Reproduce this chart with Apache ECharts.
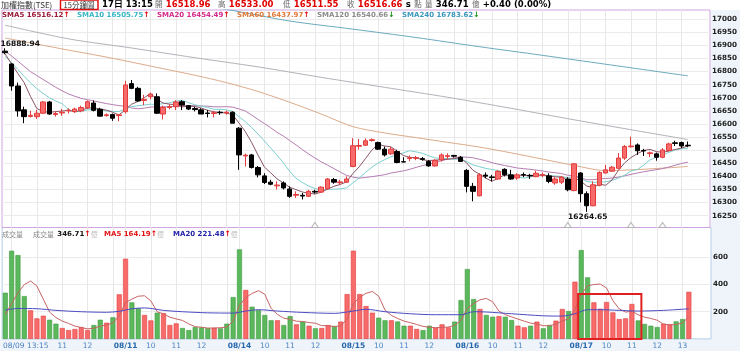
<!DOCTYPE html>
<html><head><meta charset="utf-8">
<script src="https://cdn.jsdelivr.net/npm/echarts@6/dist/echarts.min.js"></script>
<style>html,body{margin:0;padding:0;background:#fff}#c{width:740px;height:351px}</style>
</head><body><div id="c"></div><script>
// ---------- data ----------
const days = ['08/09','08/10','08/11','08/14','08/15','08/16','08/17'];
const slots = ['09:00','09:15','09:30','09:45','10:00','10:15','10:30','10:45','11:00','11:15','11:30','11:45','12:00','12:15','12:30','12:45','13:00','13:15'];
const padCats = ['pad1','pad2','pad3'];
const priceTicks = [16250,16300,16350,16400,16450,16500,16550,16600,16650,16700,16750,16800,16850,16900,16950,17000];
const volTicks = [200,400,600];

const openP = [16878,16829,16745,16654,16629,16628,16641,16684,16636,16642,16650,16647,16650,16662,16680,16656,16632,16636,16632,16647,
16754,16736,16690,16704,16704,16638,16663,16666,16685,16670,16659,16654,16642,16640,16645,16642,16645,16584,16478,16482,
16434,16402,16378,16364,16375,16352,16328,16328,16324,16343,16340,16353,16388,16376,16378,16438,16515,16519,16537,16529,
16504,16486,16495,16456,16468,16469,16468,16457,16440,16463,16476,16480,16473,16423,16362,16326,16405,16398,16390,16427,
16406,16394,16407,16404,16399,16404,16402,16375,16378,16390,16346,16413,16334,16288,16366,16413,16420,16431,16470,16513,
16520,16499,16487,16486,16473,16499,16528,16529,16518.96];
const closeP = [16872,16745,16650,16628,16633,16641,16684,16638,16640,16645,16653,16657,16663,16685,16652,16630,16635,16622,16635,16749,
16736,16688,16694,16714,16641,16663,16666,16684,16672,16657,16655,16638,16640,16643,16643,16645,16603,16482,16481,16434,
16406,16377,16370,16367,16356,16324,16331,16325,16343,16340,16359,16390,16378,16379,16390,16517,16518,16536,16540,16504,
16482,16504,16453,16455,16471,16472,16465,16440,16461,16482,16479,16477,16457,16362,16343,16406,16401,16396,16419,16406,
16390,16406,16405,16402,16412,16407,16381,16390,16397,16349,16448,16334,16288,16368,16415,16425,16435,16470,16514,16516,
16498,16497,16490,16473,16501,16524,16526,16516,16516.66];
const highP = [16888.94,16832,16758,16666,16651,16654,16687,16688,16648,16657,16660,16662,16670,16690,16690,16662,16640,16640,16638,16765,
16768,16742,16711,16720,16717,16670,16676,16691,16691,16672,16666,16660,16654,16650,16651,16651,16648,16588,16487,16486,
16440,16412,16387,16381,16381,16362,16343,16337,16349,16349,16362,16394,16394,16387,16400,16546,16543,16545,16545,16533,
16514,16512,16502,16473,16480,16478,16474,16462,16466,16488,16488,16482,16478,16428,16375,16412,16415,16406,16425,16431,
16425,16412,16415,16410,16422,16415,16412,16397,16402,16397,16450,16416,16343,16381,16419,16444,16440,16489,16520,16552,
16526,16505,16495,16491,16508,16529,16536,16533,16533.00];
const lowP = [16866,16727,16628,16603,16625,16619,16638,16635,16628,16631,16640,16643,16645,16658,16648,16628,16628,16612,16610,16640,
16733,16685,16672,16694,16638,16617,16656,16653,16653,16653,16648,16638,16625,16625,16635,16635,16603,16425,16438,16430,
16396,16371,16366,16350,16350,16318,16318,16312,16321,16334,16337,16349,16372,16368,16375,16435,16502,16516,16533,16501,
16476,16482,16450,16453,16458,16462,16460,16437,16437,16457,16466,16472,16455,16339,16305,16324,16393,16381,16387,16400,
16387,16387,16397,16390,16397,16397,16374,16368,16371,16343,16343,16301,16264.65,16286,16362,16411,16418,16427,16463,16510,
16482,16478,16474,16460,16469,16495,16516,16508,16511.55];

const volume = [340,649,617,315,210,151,171,141,112,80,65,73,87,65,102,141,119,159,328,590,
269,225,176,136,193,190,102,114,80,65,87,85,80,82,78,112,308,659,360,237,
212,176,137,137,102,168,107,127,97,78,80,102,95,127,330,649,330,242,193,156,
137,137,128,97,97,73,65,97,82,107,85,127,286,514,293,220,176,163,168,163,
139,97,85,97,127,78,102,134,220,205,421,654,453,269,222,271,195,146,151,257,
136,110,97,87,112,107,129,146,346.71];
const volSide = ['G','G','G','G','R','R','R','G','G','R','R','R','R','R','G','G','R','G','R','R',
'G','G','R','R','G','R','R','R','G','G','G','G','G','R','G','G','G','G','R','G',
'G','G','G','R','G','G','R','G','R','G','R','R','G','R','R','R','R','R','R','G',
'G','R','G','G','R','R','G','G','R','R','R','G','G','G','G','R','G','G','R','G',
'G','R','R','G','R','G','G','R','R','G','R','G','G','R','R','R','R','R','R','R',
'G','G','G','G','R','R','G','G','R'];

const sma5 = [16867,16830,16793,16758,16705.6,16659.4,16647.2,16644.8,16647.2,16649.6,16652,16646.6,16651.6,16660.6,16662,16657.4,16653,16644.8,16634.8,16654.2,
16675.4,16686,16700.4,16716.2,16694.6,16680,16675.6,16673.6,16665.2,16668.4,16666.8,16661.2,16652.4,16646.6,16643.8,16641.8,16634.8,16603.2,16570.8,16529,
16481.2,16436,16413.6,16390.8,16375.2,16358.8,16349.6,16340.6,16335.8,16332.6,16339.6,16351.4,16362,16369.2,16379.2,16410.8,16436.4,16468,16500.2,16523,
16516,16513.2,16496.6,16479.6,16473,16471,16463.2,16460.6,16461.8,16464,16465.4,16467.8,16471.2,16451.4,16423.6,16409,16393.8,16381.6,16393,16405.6,
16402.4,16403.4,16405.2,16401.8,16403,16406.4,16401.4,16398.4,16397.4,16384.8,16393,16383.6,16363.2,16357.4,16370.6,16366,16386.2,16422.6,16451.8,16472,
16486.6,16499,16503,16494.8,16491.8,16497,16502.8,16508,16516.12];
const sma10 = [16857,16835,16808,16782,16757,16735,16717,16700,16688,16677.6,16655.7,16646.9,16648.2,16653.9,16655.8,16654.7,16649.8,16648.2,16647.7,16658.1,
16666.4,16669.5,16672.6,16675.5,16674.4,16677.7,16680.8,16687,16690.7,16681.5,16673.4,16668.4,16663,16655.9,16656.1,16654.3,16648,16627.8,16608.7,16586.4,
16561.5,16535.4,16508.4,16480.8,16452.1,16420,16392.8,16377.1,16363.3,16353.9,16349.2,16350.5,16351.3,16352.5,16355.9,16375.2,16393.9,16415,16434.7,16451.1,
16463.4,16474.8,16482.3,16489.9,16498,16493.5,16488.2,16478.6,16470.7,16468.5,16468.2,16465.5,16465.9,16456.6,16443.8,16437.2,16430.8,16426.4,16422.2,16414.6,
16405.7,16398.6,16393.4,16397.4,16404.3,16404.4,16402.4,16401.8,16399.6,16393.9,16399.7,16392.5,16380.8,16377.4,16377.7,16379.5,16384.9,16392.9,16404.6,16421.3,
16426.3,16442.6,16462.8,16473.3,16481.9,16491.8,16500.9,16505.5,16505.75];
const sma20 = [16878,16860,16840,16820,16800,16785,16770,16755,16740,16727,16715,16706,16698,16693,16688,16683,16678,16674,16670,16667.9,
16661.1,16658.2,16660.4,16664.7,16665.1,16666.2,16665.3,16667.6,16669.2,16669.8,16669.9,16669,16667.8,16665.7,16665.3,16666,16664.4,16657.4,16649.7,16634,
16617.5,16601.9,16585.7,16568.4,16554.1,16537.2,16520.4,16502.5,16486,16470.2,16455.4,16443,16429.9,16416.7,16404,16397.6,16393.4,16396.1,16399,16402.5,
16406.3,16412.7,16416.8,16421.2,16427,16434.4,16441.1,16446.8,16452.7,16459.8,16465.8,16470.2,16474.1,16473.3,16470.9,16465.4,16459.5,16452.5,16446.5,16441.6,
16437,16432.1,16429.7,16427,16424.1,16420.8,16416.6,16414.1,16410.9,16404.3,16402.7,16395.6,16387.1,16387.4,16391,16392,16393.7,16397.4,16402.1,16407.6,
16413,16417.6,16421.8,16425.4,16429.8,16435.7,16442.9,16449.2,16454.49];
// sparse readings (index -> value) for the slow averages
const sma60Pts = [[0,16928],[5,16905],[10,16882],[15,16860],[20,16836],[25,16811],[30,16786],[35,16758],[40,16724],[45,16683],[50,16638],[55,16590],[60,16566],[65,16548],[70,16530],[75,16512],[80,16490],[85,16466],[90,16442],[95,16422],[100,16426],[105,16433],[108,16437.97]];
const sma120Pts = [[0,16977],[10,16925],[20,16890],[30,16853],[40,16818],[50,16778],[60,16740],[70,16702],[80,16660],[90,16616],[100,16574],[108,16540.66]];
const sma240Pts = [[25,17070],[35,17037],[45,16993],[55,16962],[65,16930],[75,16895],[85,16862],[95,16828],[108,16783.62]];

const volMa5 = [180,260,340,400,426.2,388.4,292.8,197.6,157,131,113.8,94.2,83.4,74,78.4,93.6,102.8,117.2,169.8,267.4,
293,314.2,317.6,279.2,199.8,184,159.4,147,135.8,110.2,89.6,86.2,79.4,79.8,82.4,87.4,132,247.8,303.4,335.2,
355.2,328.8,224.4,179.8,152.8,144,130.2,128.2,120.2,115.4,97.8,96.8,90.4,96.4,146.8,260.6,306.2,335.6,348.8,314,
211.6,173,150.2,131,119.2,106.4,92,85.8,82.8,84.8,87.2,99.6,137.4,223.8,261,288,297.8,273.2,204,178,
161.8,146,130.4,116.2,109,96.8,97.8,107.6,132.2,147.8,216.4,326.8,390.6,400.4,403.8,373.8,282,220.6,197,204,
177,160,150.2,137.4,108.4,102.6,106.4,116.2,164.19];
const volMa20Pts = [[0,212],[2,224],[5,222],[8,210],[12,200],[16,196],[18,203],[20,222],[22,228],[25,210],[28,200],[32,192],[36,190],[38,205],[40,215],[43,205],[47,195],[52,188],[55,205],[57,218],[60,200],[64,185],[68,178],[72,178],[74,200],[76,198],[80,185],[85,170],[88,168],[90,185],[92,215],[94,215],[97,210],[100,205],[104,210],[108,221.48]];

const markerIdx = [49,89,99,104];
const boxRange = [91,100,330];

const headerInfo = {name:'加權指數(TSE)', period:'15分鐘圖', time:'17日 13:15', open:'16518.96', high:'16533.00', low:'16511.55', close:'16516.66', vol:'346.71', chg:'+0.40 (0.00%)'};
const smaNames = ['SMA5','SMA10','SMA20','SMA60','SMA120','SMA240'];
const smaValues = ['16516.12','16505.75','16454.49','16437.97','16540.66','16783.62'];
const smaDirs = ['up','up','up','up','down','down'];
const volLegend = {vol:'346.71', ma5:'164.19', ma20:'221.48'};
const hiLabel = {idx:0, value:16888.94};
const loLabel = {idx:92, value:16264.65};

// ---------- build ----------
const categories = ['08/09 13:15'];
days.slice(1).forEach(d => slots.forEach(s => categories.push(d + ' ' + s)));
const N = categories.length; // 109
const allCats = categories.concat(padCats);
const lastDay = days[days.length-1];

const hourIdx = [];
categories.forEach((c,i) => { if (i > 0 && c.endsWith(':00')) hourIdx.push(i); });

function sparse(pts){ const a = new Array(N).fill(null); pts.forEach(p => a[p[0]] = p[1]); return a; }

const F = 'DejaVu Sans, Verdana, sans-serif';
const CJK = 'Noto Sans CJK TC, DejaVu Sans, sans-serif';

function xLabel(val, idx) {
  if (idx === 0) return '{first|' + val + '}';
  if (!val || val.indexOf(' ') < 0) return '';
  const [d, t] = val.split(' ');
  if (!t.endsWith(':00')) return '';
  if (d === days[1] && (t === '09:00' || t === '10:00')) return '';
  if (t === '09:00') return '{day|' + d + '}';
  if (t === '13:00' && d !== lastDay) return '';
  return '{hr|' + String(parseInt(t, 10)) + '}';
}

const candleData = categories.map((c,i) => [openP[i], closeP[i], lowP[i], highP[i]]);
const RED = '#f76b6b', RED_B = '#e23c3c', GRN = '#5cb85c', GRN_B = '#3f9a3f';
const volData = volume.map((v,i) => ({value: v, itemStyle: volSide[i] === 'R' ? {color: RED, borderColor: RED_B, borderWidth: 0.6} : {color: GRN, borderColor: GRN_B, borderWidth: 0.6}}));

const vLines = hourIdx.map(i => ({xAxis: categories[i]}));
const gridMark = {silent: true, symbol: ['none','none'], z: 1, animation: false,
  label: {show: false}, lineStyle: {color: '#e8e8e8', type: 'solid', width: 1}, emphasis: {disabled: true}, data: vLines};

function lineSeries(name, data, color, xi, yi, extra) {
  return Object.assign({name, type: 'line', data, xAxisIndex: xi, yAxisIndex: yi, showSymbol: false, symbol: 'none',
    connectNulls: true, lineStyle: {color, width: 1}, z: 3, silent: true, animation: false}, extra || {});
}

const chart = echarts.init(document.getElementById('c'));
const labelStyle = {fontFamily: F, fontSize: 7.2, fontWeight: 'bold', color: '#222', formatter: v => String(v)};

// graphic text
const arrow = d => d === 'up' ? '{u|↑}' : '{d|↓}';
const smaColors = ['#9b1b3b','#38b6c6','#d42a8a','#e07a38','#8c8c8c','#3a98bd'];
const smaX = [2,77,157,237,317,402];
const headRich = {
  g: {fill:'#666', fontSize:7.5, fontFamily:CJK},
  r: {fill:'#e00000', fontSize:8.5, fontWeight:'bold', fontFamily:F},
  k: {fill:'#000', fontSize:8.5, fontWeight:'bold', fontFamily:F}
};
const gfx = [
  {type:'rect', shape:{x:711, y:10, width:29, height:341}, style:{fill:'#eef4fa'}, z:-10, silent:true},
  {type:'rect', shape:{x:0, y:339, width:740, height:12}, style:{fill:'#eef4fa'}, z:-10, silent:true},
  {type:'text', x:1, y:4.5, silent:true, z:100, style:{text: headerInfo.name, fill:'#333', fontSize:8, fontFamily:CJK, verticalAlign:'middle'}},
  {type:'rect', shape:{x:60.5, y:0, width:37.5, height:9.5}, style:{fill:'none', stroke:'#e01010', lineWidth:1.5}, z:100, silent:true},
  {type:'text', x:79, y:4.8, silent:true, z:100, style:{text: headerInfo.period, fill:'#333', fontSize:7.5, fontFamily:CJK, align:'center', verticalAlign:'middle'}},
  {type:'text', x:102, y:4.5, silent:true, z:100, style:{text: headerInfo.time, fill:'#000', fontSize:8.5, fontWeight:'bold', fontFamily:F, verticalAlign:'middle'}},
  {type:'text', x:155, y:4.5, silent:true, z:100, style:{text:'{g|開} {r|' + headerInfo.open + '}', verticalAlign:'middle', rich:headRich}},
  {type:'text', x:218, y:4.5, silent:true, z:100, style:{text:'{g|高} {r|' + headerInfo.high + '}', verticalAlign:'middle', rich:headRich}},
  {type:'text', x:283, y:4.5, silent:true, z:100, style:{text:'{g|低} {r|' + headerInfo.low + '}', verticalAlign:'middle', rich:headRich}},
  {type:'text', x:347, y:4.5, silent:true, z:100, style:{text:'{g|收} {r|' + headerInfo.close + '} {k|s} {g|點} {g|量} {k|' + headerInfo.vol + '} {g|億} {k|' + headerInfo.chg + '}', verticalAlign:'middle', rich:headRich}}
];
smaNames.forEach((n,i) => {
  gfx.push({type:'text', x: smaX[i], y: 15.5, silent:true, z:100, style:{
    text: '{c|' + n + ' ' + smaValues[i] + '}' + arrow(smaDirs[i]), verticalAlign:'middle',
    rich: {c:{fill: smaColors[i], fontSize:7, fontWeight:'bold', fontFamily:F},
           u:{fill:'#e00000', fontSize:7.5, fontWeight:'bold', fontFamily:F},
           d:{fill:'#109010', fontSize:7.5, fontWeight:'bold', fontFamily:F}}}});
});
const volRich = {
  g:{fill:'#888', fontSize:7, fontFamily:CJK}, k:{fill:'#111', fontSize:7, fontWeight:'bold', fontFamily:F},
  r:{fill:'#e01515', fontSize:7, fontWeight:'bold', fontFamily:F}, b:{fill:'#2222aa', fontSize:7, fontWeight:'bold', fontFamily:F},
  u:{fill:'#e00000', fontSize:7.5, fontWeight:'bold', fontFamily:F}, l:{fill:'#bbb', fontSize:7, fontFamily:CJK}
};
gfx.push({type:'text', x:2, y:234, silent:true, z:100, style:{text:'{g|成交量}', verticalAlign:'middle', rich:volRich}});
gfx.push({type:'text', x:33, y:234, silent:true, z:100, style:{text:'{g|成交量} {k|' + volLegend.vol + '}{u|↑}{l|億}', verticalAlign:'middle', rich:volRich}});
gfx.push({type:'text', x:104, y:234, silent:true, z:100, style:{text:'{r|MA5 ' + volLegend.ma5 + '}{u|↑}{l|億}', verticalAlign:'middle', rich:volRich}});
gfx.push({type:'text', x:173, y:234, silent:true, z:100, style:{text:'{b|MA20 ' + volLegend.ma20 + '}{u|↑}{l|億}', verticalAlign:'middle', rich:volRich}});

const option = {
  animation: false,
  backgroundColor: '#ffffff',
  graphic: gfx,
  grid: [
    {left: 2, right: 29, top: 227.5, height: 111.4, show: true, borderColor: '#b4cde6', borderWidth: 1, backgroundColor: '#fff'},
    {left: 2, right: 29, top: 10, height: 217.5, show: true, borderColor: '#cfa4df', borderWidth: 1, backgroundColor: '#fff'}
  ],
  xAxis: [
    {gridIndex: 0, type: 'category', data: allCats, boundaryGap: true, axisLine: {show: false}, axisTick: {show: false}, splitLine: {show: false},
     axisLabel: {interval: 0, margin: 3, formatter: xLabel, rich: {
       first: {color: '#4a7fc0', fontSize: 7.5, fontFamily: F, padding: [0,0,0,41]},
       day: {color: '#2566ad', fontSize: 7.5, fontWeight: 'bold', fontFamily: F},
       hr: {color: '#4f86c4', fontSize: 7.5, fontFamily: F}}}},
    {gridIndex: 1, type: 'category', data: allCats, boundaryGap: true, axisLine: {show: false}, axisTick: {show: false}, axisLabel: {show: false}, splitLine: {show: false}}
  ],
  yAxis: [
    {gridIndex: 0, type: 'value', position: 'right', min: 0, max: 820, axisLine: {show: false},
     axisTick: {show: false, customValues: volTicks}, axisLabel: Object.assign({customValues: volTicks, margin: 2}, labelStyle),
     splitLine: {show: true, lineStyle: {color: '#ebebeb'}}},
    {gridIndex: 1, type: 'value', position: 'right', min: 16205, max: 17035, axisLine: {show: false},
     axisTick: {show: false, customValues: priceTicks}, axisLabel: Object.assign({customValues: priceTicks, margin: 2}, labelStyle),
     splitLine: {show: true, lineStyle: {color: '#ebebeb'}}}
  ],
  series: [
    {name: 'K', type: 'candlestick', xAxisIndex: 1, yAxisIndex: 1, data: candleData, barWidth: 5, z: 4,
     itemStyle: {color: RED, color0: '#000000', borderColor: RED_B, borderColor0: '#000000', borderWidth: 1},
     markLine: gridMark,
     markPoint: {symbol: 'circle', symbolSize: 0, silent: true, animation: false,
       label: {show: true, color: '#111', fontSize: 7.5, fontWeight: 'bold', fontFamily: F, formatter: p => p.value.toFixed(2)},
       data: [
         {coord: [categories[hiLabel.idx], hiLabel.value], value: hiLabel.value, label: {offset: [15, -4]}},
         {coord: [categories[loLabel.idx], loLabel.value], value: loLabel.value, label: {offset: [1, 5]}}
       ]}},
    lineSeries('SMA240', sparse(sma240Pts), '#6aaabb', 1, 1, {smooth: 0.3}),
    lineSeries('SMA120', sparse(sma120Pts), '#b2b2ba', 1, 1, {smooth: 0.3}),
    lineSeries('SMA60', sparse(sma60Pts), '#dcab8a', 1, 1, {smooth: 0.3}),
    lineSeries('SMA20', sma20, '#b67cb2', 1, 1),
    lineSeries('SMA10', sma10, '#7ccfcf', 1, 1),
    lineSeries('SMA5', sma5, '#8a5565', 1, 1),
    {name: 'mk', type: 'scatter', xAxisIndex: 1, yAxisIndex: 1, symbol: 'triangle', symbolSize: [7, 5], symbolOffset: [0, -2.5],
     data: markerIdx.map(i => [categories[i], 16205]), itemStyle: {color: '#ffffff', borderColor: '#aaaaaa', borderWidth: 1}, silent: true, z: 6},
    {name: 'VOL', type: 'bar', xAxisIndex: 0, yAxisIndex: 0, data: volData, barWidth: 5, z: 2, clip: false,
     markLine: gridMark,
     markArea: {silent: true, z: 6, itemStyle: {color: 'rgba(0,0,0,0)', borderColor: '#e02020', borderWidth: 2},
       data: [[{xAxis: categories[boxRange[0]], yAxis: boxRange[2]}, {xAxis: categories[boxRange[1]], yAxis: -25}]]}},
    lineSeries('VMA5', volMa5, '#c86464', 0, 0, {z: 4}),
    lineSeries('VMA20', sparse(volMa20Pts), '#4b4bc4', 0, 0, {z: 4, smooth: 0.3})
  ]
};
chart.setOption(option);
</script></body></html>
